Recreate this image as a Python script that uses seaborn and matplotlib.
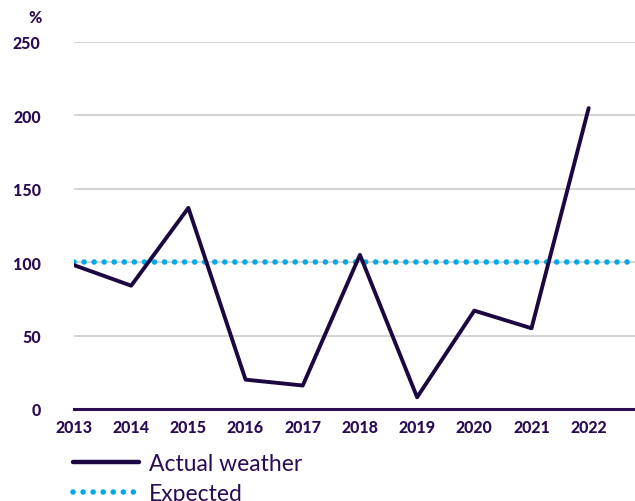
import matplotlib
matplotlib.use("Agg")
import matplotlib.pyplot as plt
import seaborn as sns
import pandas as pd
from matplotlib.lines import Line2D

years = [2013, 2014, 2015, 2016, 2017, 2018, 2019, 2020, 2021, 2022]
actual = [98, 84, 137, 20, 16, 105, 8, 67, 55, 205]
expected = [100] * len(years)
y_ticks = [0, 50, 100, 150, 200, 250]

df = pd.DataFrame({"year": years, "Actual weather": actual, "Expected": expected})

sns.set_theme(style="white")
plt.rcParams["font.family"] = ["Lato", "DejaVu Sans"]

text_color = "#2a0c55"
line_color = "#1c0840"
dot_color = "#00a8e8"
dot_style = (0, (0.01, 1.8))

fig = plt.figure(figsize=(6.35, 5.02), dpi=100)
ax = fig.add_axes([74 / 635, 92 / 502, 1 - 74 / 635, (410 - 43) / 502])

for y in y_ticks[1:]:
    ax.axhline(y, color="#cccccc", lw=1.2, zorder=0)

# expected level, carried across to the right edge of the axes
ax.axhline(expected[0], color=dot_color, lw=4, linestyle=dot_style,
           dash_capstyle="round", zorder=2)
sns.lineplot(data=df, x="year", y="Actual weather", ax=ax, color=line_color,
             lw=2.8, zorder=3)

ax.set_xlim(2013, 2022.81)
ax.set_ylim(0, 250)
ax.set_xticks(years)
ax.set_xticklabels([str(y) for y in years])
ax.set_yticks(y_ticks)
ax.set_xlabel("")
ax.set_ylabel("")

for s in ["top", "right", "left"]:
    ax.spines[s].set_visible(False)
ax.spines["bottom"].set_color(text_color)
ax.spines["bottom"].set_linewidth(2.2)
ax.spines["bottom"].set_zorder(4)

ax.tick_params(axis="x", length=0, pad=7, labelsize=11.5, labelcolor=text_color)
ax.tick_params(axis="y", length=0, pad=24, labelsize=11.5, labelcolor=text_color)
for lbl in ax.get_xticklabels() + ax.get_yticklabels():
    lbl.set_fontweight("black")

fig.text(42 / 635, 1 - 18 / 502, "%", ha="right", va="center",
         fontsize=11.5, fontweight="black", color=text_color)

handles = [
    Line2D([], [], color=line_color, lw=3.2),
    Line2D([], [], color=dot_color, lw=4, linestyle=dot_style,
           dash_capstyle="round"),
]
leg = fig.legend(handles, ["Actual weather", "Expected"], loc="upper left",
                 bbox_to_anchor=(73 / 635, 1 - 454 / 502), frameon=False,
                 fontsize=16.5, handlelength=2.9, handletextpad=0.42,
                 labelspacing=0.4, borderpad=0, borderaxespad=0)
for t in leg.get_texts():
    t.set_color(text_color)

fig.savefig("out.png", dpi=100)
